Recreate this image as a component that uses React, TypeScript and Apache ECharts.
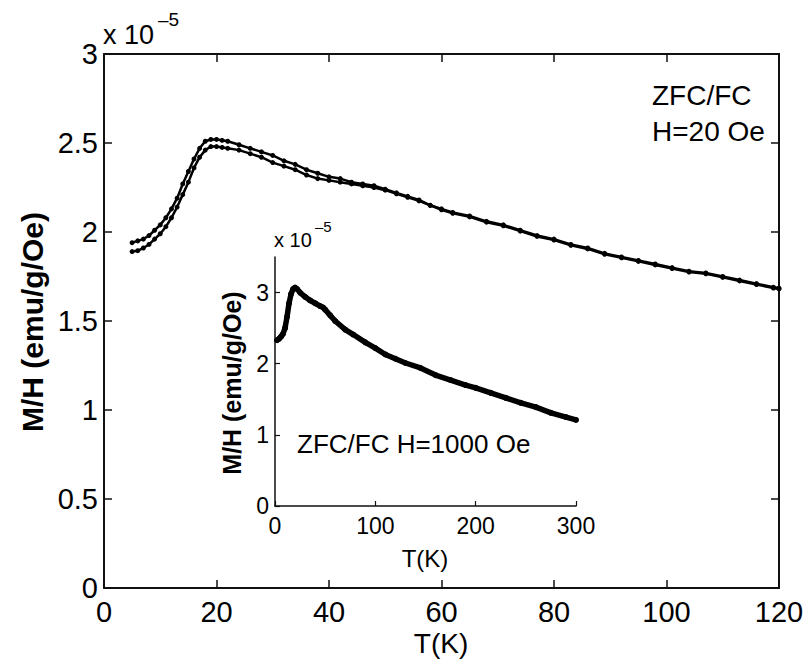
import React, { useEffect, useRef } from "react";
import * as echarts from "echarts";

// Main panel: H = 20 Oe, values in units of 1e-5 emu/g/Oe
const fcTemp = [5, 6, 7, 8, 9, 10, 11, 12, 13, 14, 15, 16, 17, 18, 19, 20, 21, 22, 24, 26, 28, 30, 32, 34, 36, 38, 40, 42, 44, 46, 48, 50, 52, 54, 56, 58, 60, 62, 65, 68, 71, 74, 77, 80, 83, 86, 89, 92, 95, 98, 101, 104, 107, 110, 113, 116, 119, 120];
const fcValue = [1.94, 1.95, 1.96, 1.98, 2.01, 2.04, 2.08, 2.13, 2.19, 2.27, 2.34, 2.41, 2.47, 2.51, 2.52, 2.52, 2.515, 2.51, 2.49, 2.47, 2.45, 2.43, 2.4, 2.38, 2.35, 2.33, 2.31, 2.3, 2.28, 2.27, 2.26, 2.24, 2.22, 2.2, 2.18, 2.15, 2.13, 2.11, 2.09, 2.06, 2.04, 2.01, 1.98, 1.96, 1.93, 1.91, 1.88, 1.86, 1.84, 1.82, 1.8, 1.78, 1.77, 1.75, 1.73, 1.71, 1.69, 1.685];
const zfcTemp = [5, 6, 7, 8, 9, 10, 11, 12, 13, 14, 15, 16, 17, 18, 19, 20, 21, 22, 24, 26, 28, 30, 32, 34, 36, 38, 40, 42, 44, 46, 48, 50, 52, 54, 56, 58, 60, 62, 65, 68, 71, 74, 77, 80, 83, 86, 89, 92, 95, 98, 101, 104, 107, 110, 113, 116, 119, 120];
const zfcValue = [1.89, 1.895, 1.91, 1.93, 1.96, 1.99, 2.03, 2.08, 2.14, 2.21, 2.28, 2.36, 2.42, 2.46, 2.48, 2.48, 2.475, 2.47, 2.46, 2.44, 2.42, 2.39, 2.37, 2.35, 2.32, 2.3, 2.29, 2.28, 2.27, 2.26, 2.25, 2.235, 2.215, 2.195, 2.175, 2.15, 2.125, 2.105, 2.085, 2.055, 2.035, 2.005, 1.975, 1.955, 1.925, 1.905, 1.875, 1.855, 1.835, 1.815, 1.795, 1.775, 1.765, 1.745, 1.725, 1.705, 1.685, 1.68];

// Inset: H = 1000 Oe
const insetTemp = [2, 4, 6, 8, 10, 12, 14, 16, 18, 20, 22, 25, 30, 35, 40, 45, 48, 50, 55, 60, 70, 78, 90, 100, 110, 120, 130, 145, 160, 175, 190, 200, 215, 230, 245, 260, 275, 290, 300];
const insetValue = [2.33, 2.35, 2.38, 2.42, 2.5, 2.66, 2.85, 2.98, 3.05, 3.07, 3.05, 3.0, 2.94, 2.89, 2.85, 2.81, 2.79, 2.76, 2.68, 2.6, 2.48, 2.41, 2.3, 2.22, 2.13, 2.07, 2.01, 1.94, 1.84, 1.77, 1.7, 1.66, 1.59, 1.52, 1.45, 1.39, 1.31, 1.25, 1.21];

const insetYTicks = [0, 1, 2, 3];

const FONT = "'Liberation Sans', Arial, Helvetica, sans-serif";

export default function App() {
  const ref = useRef<HTMLDivElement>(null);
  useEffect(() => {
    if (!ref.current) return;
    const chart = echarts.init(ref.current, null, { renderer: "svg" });
    const axisLine = { show: true, onZero: false, lineStyle: { color: "#111", width: 2 } };
    const insetAxisLine = { show: true, onZero: false, lineStyle: { color: "#111", width: 1.5 } };
    const mainTick = { show: true, inside: true, length: 8, lineStyle: { color: "#111", width: 1.5 } };
    const insetTick = { show: true, inside: true, length: 5, lineStyle: { color: "#111", width: 1.2 } };
    const mainLabel = { color: "#000", fontSize: 29, fontFamily: FONT };
    const insetLabel = { color: "#000", fontSize: 23, fontFamily: FONT };
    const lineSeries = (x: number[], y: number[], xi: number, yi: number, w: number, s: number) => ({
      type: "line",
      xAxisIndex: xi,
      yAxisIndex: yi,
      data: x.map((t, i) => [t, y[i]]),
      symbol: "circle",
      symbolSize: s,
      showSymbol: true,
      lineStyle: { color: "#000", width: w },
      itemStyle: { color: "#000" },
      silent: true,
    });
    chart.setOption({
      animation: false,
      backgroundColor: "#fff",
      grid: [
        { left: 104, right: 31, top: 54, bottom: 72 },
        { left: 275, right: 234, top: 257, bottom: 154 },
      ],
      xAxis: [
        {
          gridIndex: 0, type: "value", min: 0, max: 120, interval: 20, position: "bottom",
          axisLine, splitLine: { show: false }, axisTick: mainTick,
          axisLabel: { ...mainLabel, margin: 9 },
        },
        {
          gridIndex: 0, type: "value", min: 0, max: 120, interval: 20, position: "top",
          axisLine, splitLine: { show: false }, axisTick: mainTick,
          axisLabel: { show: false },
        },
        {
          gridIndex: 1, type: "value", min: 0, max: 300, interval: 100, position: "bottom",
          axisLine: insetAxisLine, splitLine: { show: false }, axisTick: insetTick,
          axisLabel: { ...insetLabel, margin: 8 },
        },
      ],
      yAxis: [
        {
          gridIndex: 0, type: "value", min: 0, max: 3, interval: 0.5, position: "left",
          axisLine, splitLine: { show: false }, axisTick: mainTick,
          axisLabel: { ...mainLabel, margin: 6 },
        },
        {
          gridIndex: 0, type: "value", min: 0, max: 3, interval: 0.5, position: "right",
          axisLine, splitLine: { show: false }, axisTick: mainTick,
          axisLabel: { show: false },
        },
        {
          gridIndex: 1, type: "value", min: 0, max: 3.5, interval: 1, position: "left",
          axisLine: insetAxisLine, splitLine: { show: false },
          axisTick: { ...insetTick, customValues: insetYTicks },
          axisLabel: { ...insetLabel, margin: 6, customValues: insetYTicks },
        },
      ],
      series: [
        lineSeries(fcTemp, fcValue, 0, 0, 2.5, 5),
        lineSeries(zfcTemp, zfcValue, 0, 0, 2.5, 5),
        lineSeries(insetTemp, insetValue, 2, 2, 5.5, 6),
      ],
      graphic: [
        { type: "text", x: 103, y: 35, style: { text: "x 10", font: `27px ${FONT}`, fill: "#000", verticalAlign: "middle", align: "left" } },
        { type: "text", x: 158, y: 19, style: { text: "–5", font: `19px ${FONT}`, fill: "#000", verticalAlign: "middle", align: "left" } },
        { type: "text", x: 652, y: 95, style: { text: "ZFC/FC", font: `28px ${FONT}`, fill: "#000", verticalAlign: "middle", align: "left" } },
        { type: "text", x: 652, y: 131, style: { text: "H=20 Oe", font: `28px ${FONT}`, fill: "#000", verticalAlign: "middle", align: "left" } },
        { type: "text", x: 441, y: 643, style: { text: "T(K)", font: `28px ${FONT}`, fill: "#000", verticalAlign: "middle", align: "center" } },
        { type: "text", x: 32, y: 322, rotation: Math.PI / 2, style: { text: "M/H (emu/g/Oe)", font: `bold 30px ${FONT}`, fill: "#000", verticalAlign: "middle", align: "center" } },
        { type: "text", x: 274, y: 240, style: { text: "x 10", font: `20px ${FONT}`, fill: "#000", verticalAlign: "middle", align: "left" } },
        { type: "text", x: 315, y: 226, style: { text: "–5", font: `15px ${FONT}`, fill: "#000", verticalAlign: "middle", align: "left" } },
        { type: "text", x: 297, y: 444, style: { text: "ZFC/FC H=1000 Oe", font: `26px ${FONT}`, fill: "#000", verticalAlign: "middle", align: "left" } },
        { type: "text", x: 425, y: 558, style: { text: "T(K)", font: `24px ${FONT}`, fill: "#000", verticalAlign: "middle", align: "center" } },
        { type: "text", x: 232, y: 383, rotation: Math.PI / 2, style: { text: "M/H (emu/g/Oe)", font: `bold 25px ${FONT}`, fill: "#000", verticalAlign: "middle", align: "center" } },
      ],
    });
    return () => chart.dispose();
  }, []);
  return <div ref={ref} style={{ position: "absolute", left: 0, top: 0, width: 810, height: 660 }} />;
}
